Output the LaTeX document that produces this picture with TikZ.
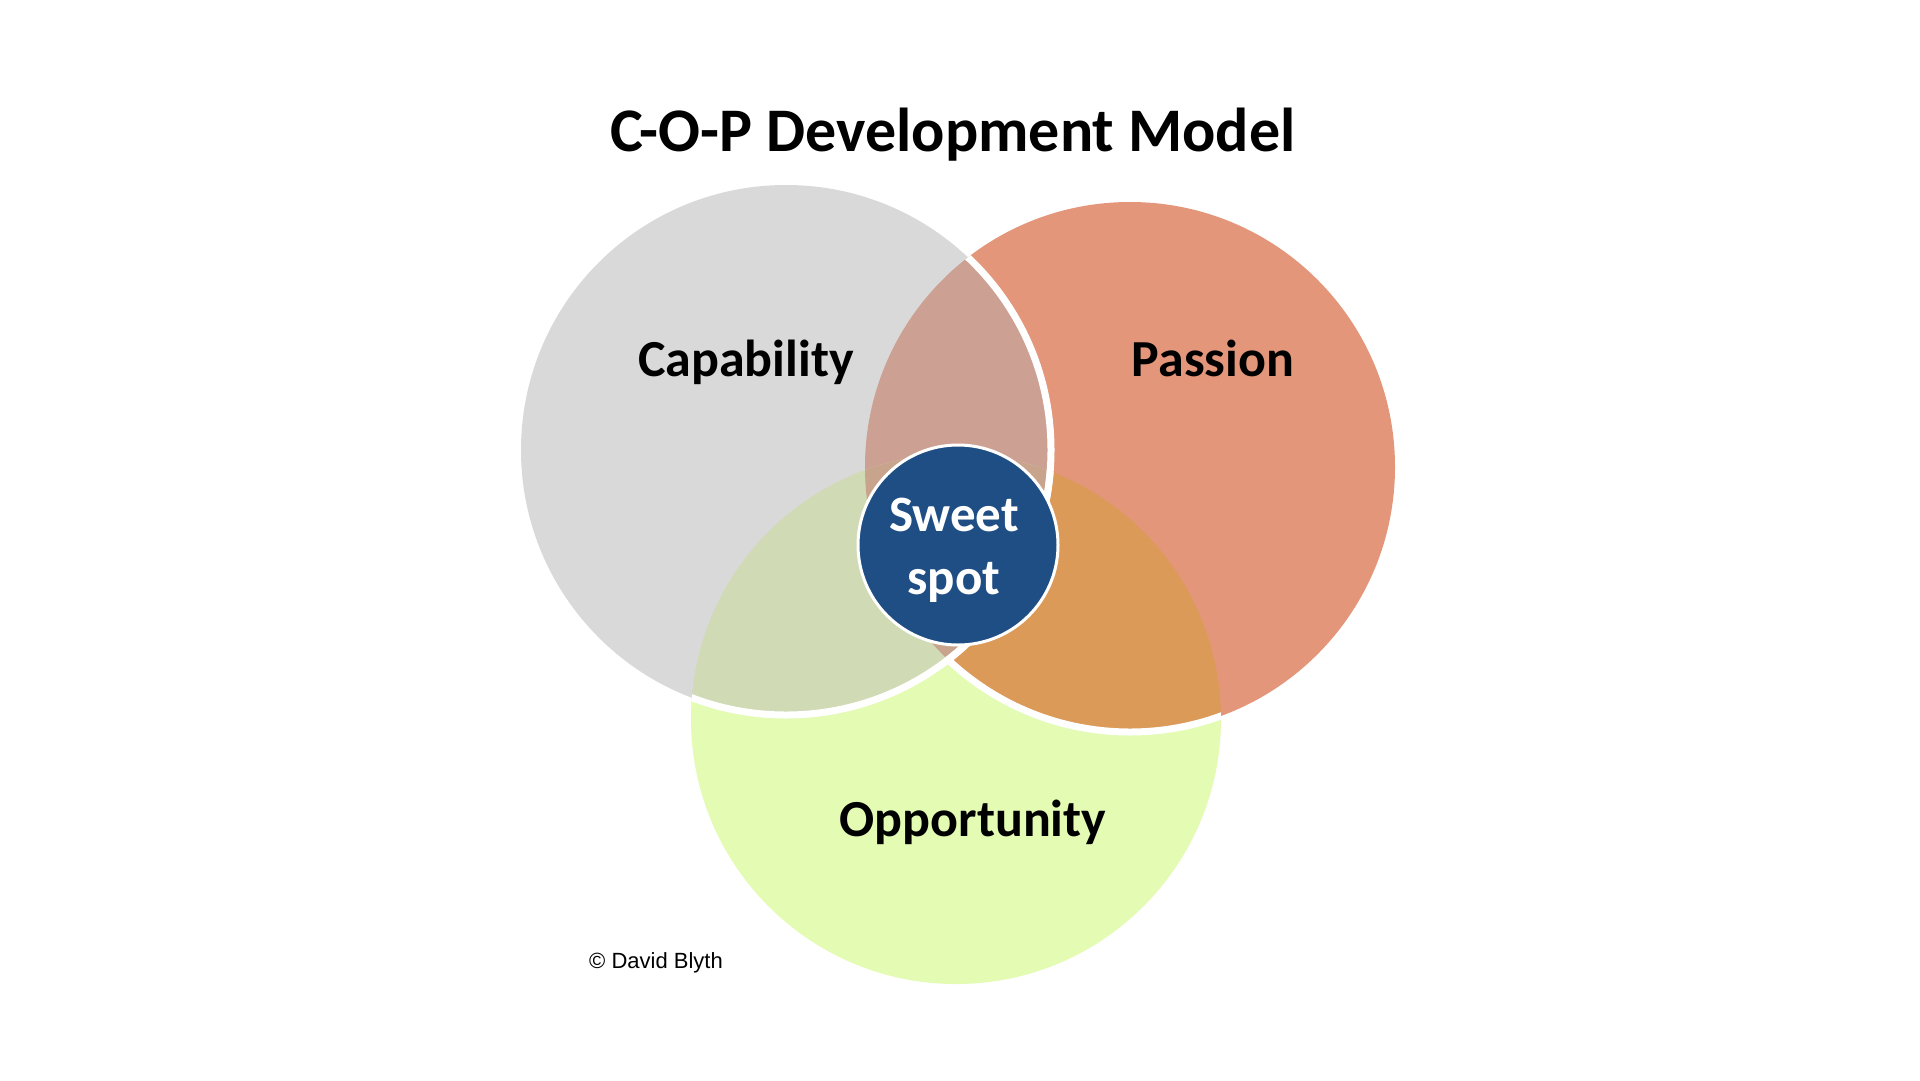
\documentclass[tikz,border=0pt]{standalone}
\usepackage{fontspec}
\setmainfont{Carlito}
\newfontfamily\creditfont{Liberation Sans}

\definecolor{capgray}{HTML}{D9D9D9}
\definecolor{passalmon}{HTML}{E3967A}
\definecolor{oppgreen}{HTML}{E3FBB2}
\definecolor{cappas}{HTML}{CCA194}
\definecolor{capopp}{HTML}{D0DAB4}
\definecolor{pasopp}{HTML}{DC9A58}
\definecolor{allthree}{HTML}{C9A48C}
\definecolor{sweetblue}{HTML}{1F4E84}

\tikzset{
    setname/.style={font=\bfseries\fontsize{52}{60}\selectfont, inner sep=0pt, anchor=base},
    seam/.style={draw=white, line width=7pt},
    sweetdot/.style={circle, fill=sweetblue, draw=white, line width=3pt, minimum size=200pt, inner sep=0pt},
}

\begin{document}
\begin{tikzpicture}[x=1pt,y=-1pt]
    \useasboundingbox (0,0) rectangle (1920,1080);
    \fill[white] (0,0) rectangle (1920,1080);

    \coordinate (cap) at (786,450);
    \coordinate (pas) at (1130,467);
    \coordinate (opp) at (956,719);

    % the three sets
    \fill[oppgreen] (opp) circle[radius=265pt];
    \fill[passalmon] (pas) circle[radius=265pt];
    \fill[capgray] (cap) circle[radius=265pt];

    % overlaps
    \begin{scope}
        \clip (pas) circle[radius=265pt];
        \fill[pasopp] (opp) circle[radius=265pt];
    \end{scope}
    \begin{scope}
        \clip (cap) circle[radius=265pt];
        \fill[cappas] (pas) circle[radius=265pt];
        \fill[capopp] (opp) circle[radius=265pt];
        \clip (pas) circle[radius=265pt];
        \fill[allthree] (opp) circle[radius=265pt];
    \end{scope}

    % white seams
    \begin{scope}
        \clip (pas) circle[radius=265pt];
        \draw[seam] (cap) circle[radius=265pt];
    \end{scope}
    \begin{scope}
        \clip (opp) circle[radius=265pt];
        \begin{scope}[even odd rule]
            \clip (0,0) rectangle (1920,1080) (cap) circle[radius=265pt];
            \draw[seam] (pas) circle[radius=265pt];
        \end{scope}
        \draw[seam] (cap) circle[radius=265pt];
    \end{scope}

    \node[sweetdot] (sweet) at (958,545) {};

    \node[setname, font=\bfseries\fontsize{62}{70}\selectfont] (title) at (953,151) {C-O-P Development Model};
    \node[setname] (capname) at (746,376) {Capability};
    \node[setname] (pasname) at (1213,376) {Passion};
    \node[setname] (oppname) at (973,836) {Opportunity};
    \node[setname, text=white, font=\bfseries\fontsize{51}{60}\selectfont] (sweetA) at (954,531) {Sweet};
    \node[setname, text=white, font=\bfseries\fontsize{51}{60}\selectfont] (sweetB) at (954,594) {spot};

    \node[inner sep=0pt, anchor=base west, font=\creditfont\fontsize{22}{26}\selectfont] (credit) at (589,968) {© David Blyth};
\end{tikzpicture}
\end{document}
